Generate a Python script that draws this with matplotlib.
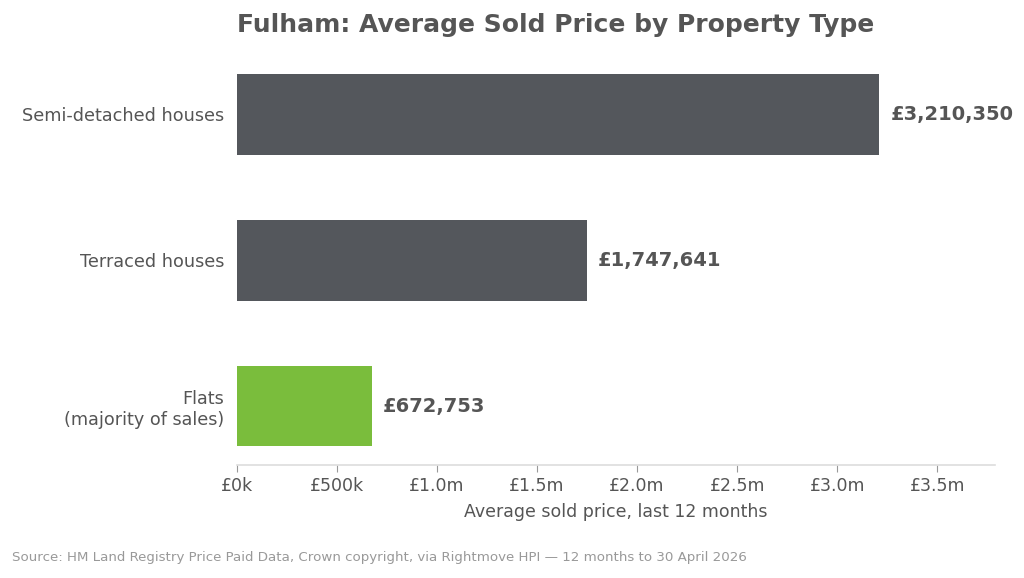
import matplotlib.pyplot as plt
from matplotlib.ticker import FuncFormatter

categories = ['Flats\n(majority of sales)', 'Terraced houses', 'Semi-detached houses']
prices = [672753, 1747641, 3210350]
colors = ['#7abd3c', '#54575c', '#54575c']

text_col = '#555555'

fig = plt.figure(figsize=(10.24, 5.78), dpi=100)
ax = fig.add_axes([0.2314, 0.1955, 0.7402, 0.708])

ypos = range(len(categories))
ax.barh(ypos, prices, height=0.55, color=colors)
ax.set_yticks(list(ypos))
ax.set_yticklabels(categories, fontsize=12.7, color=text_col)
ax.tick_params(axis='y', length=0, pad=9)

for y, p in zip(ypos, prices):
    ax.text(p + 55000, y, '£{:,}'.format(p), va='center', ha='left',
            fontsize=14, fontweight='bold', color=text_col)


def fmt(x, pos):
    if x == 0:
        return '£0k'
    if x < 1e6:
        return '£{:.0f}k'.format(x / 1e3)
    return '£{:.1f}m'.format(x / 1e6)


ax.set_xlim(0, max(prices) * 1.18)
ax.set_xticks([0, 500000, 1000000, 1500000, 2000000, 2500000, 3000000, 3500000])
ax.xaxis.set_major_formatter(FuncFormatter(fmt))
ax.tick_params(axis='x', labelsize=12.5, colors=text_col, color='#999999', length=5)
ax.set_xlabel('Average sold price, last 12 months', fontsize=12.5, color=text_col, labelpad=6)

for s in ['top', 'right', 'left']:
    ax.spines[s].set_visible(False)
ax.spines['bottom'].set_color('#dddddd')
ax.spines['bottom'].set_linewidth(1.2)

ax.set_title('Fulham: Average Sold Price by Property Type', loc='left',
             fontsize=18, fontweight='bold', color=text_col, pad=17)

fig.text(0.012, 0.035, 'Source: HM Land Registry Price Paid Data, Crown copyright, via Rightmove HPI \u2014 12 months to 30 April 2026',
         fontsize=9.6, color='#999999', ha='left', va='center')

fig.savefig('out.png', dpi=100)
